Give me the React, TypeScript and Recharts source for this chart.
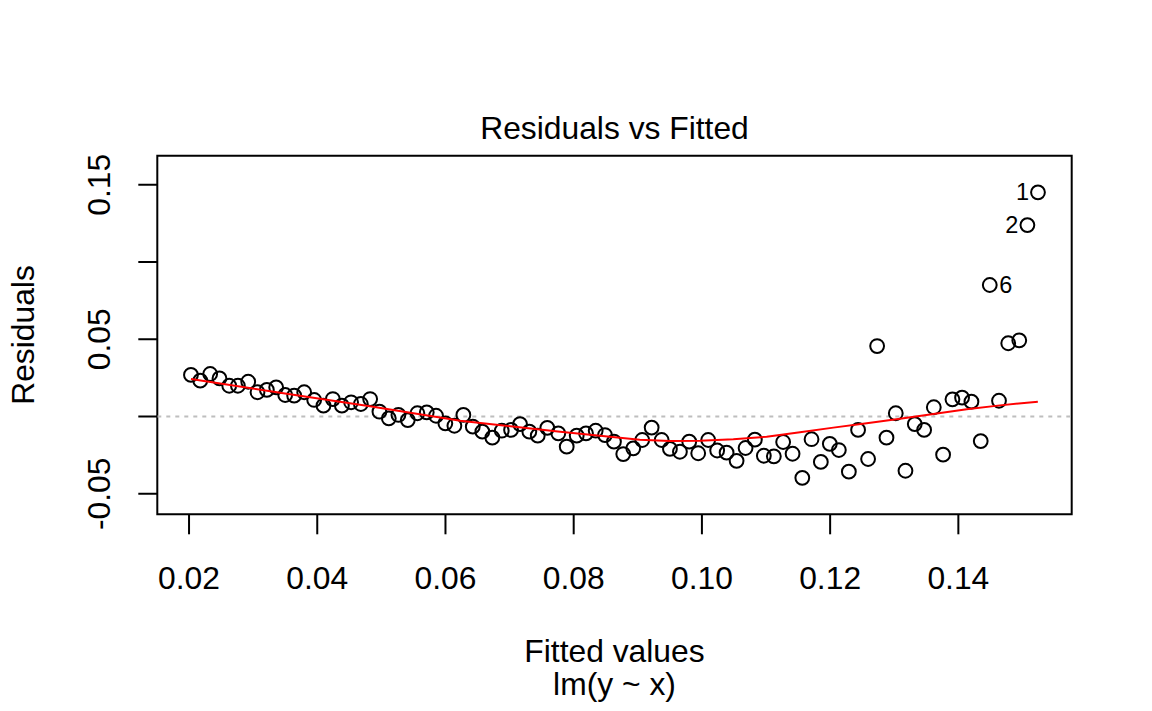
import React from "react";
import {
  ScatterChart,
  Scatter,
  XAxis,
  YAxis,
  ReferenceLine,
  ReferenceArea,
} from "recharts";

// Fitted values (x) and residuals (y), left to right
const fittedValues = [
  0.0203, 0.02175, 0.0233, 0.02475, 0.02627, 0.02762, 0.02923, 0.03068, 0.03214, 0.03359,
  0.035, 0.0364, 0.03796, 0.03952, 0.04097, 0.04243, 0.04384, 0.04528, 0.0468, 0.04825,
  0.0497, 0.05116, 0.05266, 0.05412, 0.05562, 0.05708, 0.05853, 0.05998, 0.06139, 0.06279,
  0.06426, 0.06575, 0.06731, 0.06878, 0.07023, 0.07163, 0.07308, 0.07439, 0.07588, 0.0776,
  0.07891, 0.08047, 0.08192, 0.08343, 0.08488, 0.08628, 0.08773, 0.08929, 0.09069, 0.09216,
  0.09372, 0.09501, 0.09657, 0.09802, 0.09942, 0.10098, 0.10238, 0.10385, 0.10541, 0.10681,
  0.10826, 0.10966, 0.11122, 0.11267, 0.11414, 0.11566, 0.1171, 0.11855, 0.11995, 0.12136,
  0.12292, 0.12436, 0.12592, 0.12733, 0.12879, 0.13024, 0.13175, 0.1332, 0.13466, 0.13617,
  0.13762, 0.13908, 0.14058, 0.14204, 0.14349, 0.1449, 0.14634, 0.14778, 0.1495, 0.15077,
  0.15242,
];

const residuals = [
  0.0269, 0.0232, 0.0275, 0.0247, 0.0199, 0.0199, 0.0225, 0.0157, 0.0172, 0.0189,
  0.0139, 0.0135, 0.0157, 0.0107, 0.007, 0.0113, 0.007, 0.0092, 0.0081, 0.0113,
  0.0031, -0.0012, 0.001, -0.0023, 0.0021, 0.0027, 0.0005, -0.0044, -0.006, 0.001,
  -0.0066, -0.0098, -0.0137, -0.0092, -0.0087, -0.0049, -0.0098, -0.0124, -0.0074, -0.0109,
  -0.0195, -0.0124, -0.0109, -0.0092, -0.012, -0.0163, -0.0243, -0.0206, -0.0152, -0.0072,
  -0.0152, -0.021, -0.0228, -0.0163, -0.0238, -0.0152, -0.022, -0.0234, -0.0287, -0.0204,
  -0.015, -0.0254, -0.0258, -0.0165, -0.0241, -0.0397, -0.0147, -0.0294, -0.0177, -0.0217,
  -0.0357, -0.0087, -0.0275, 0.0456, -0.0137, 0.0021, -0.0351, -0.0049, -0.0087, 0.006,
  -0.0247, 0.0111, 0.0122, 0.0096, -0.0159, 0.0851, 0.0102, 0.0474, 0.0493, 0.1239,
  0.1451,
];

// Observations whose id is printed next to the point
const labelledIds = ["1", "2", "6"];
const labelLeftIds = ["1", "2"];

// Smoother (red line)
const smoothX = [
  0.0203, 0.0342, 0.0482, 0.0623, 0.0779, 0.0903, 0.095, 0.0997, 0.1049, 0.1101,
  0.1153, 0.1205, 0.1257, 0.1309, 0.1361, 0.1413, 0.1465, 0.1524,
];
const smoothY = [
  0.0243, 0.0153, 0.0067, -0.0027, -0.0098, -0.015, -0.0158, -0.0157, -0.0148, -0.0131,
  -0.0102, -0.0072, -0.0044, -0.0014, 0.0016, 0.0047, 0.0072, 0.0096,
];

const xTicks = [0.02, 0.04, 0.06, 0.08, 0.1, 0.12, 0.14];
const yTicks = [-0.05, 0, 0.05, 0.1, 0.15];
const yLabelledTicks = [-0.05, 0.05, 0.15];

const xDomain: [number, number] = [0.01505, 0.15768];
const yDomain: [number, number] = [-0.0633, 0.1688];

const FONT = '"Liberation Sans", Arial, Helvetica, sans-serif';
const FS = 31.8;

const X_AXIS_H = 60;
const Y_AXIS_W = 60;

const points = fittedValues.map((f, i) => ({
  x: f,
  y: residuals[i],
  id: String(fittedValues.length - i),
}));
const smoothData = smoothX.map((x, i) => ({ x, y: smoothY[i] }));

const PointShape = (props: any) => {
  const { cx, cy, payload } = props;
  const id = payload?.id;
  const showLabel = labelledIds.includes(id);
  const left = labelLeftIds.includes(id);
  return (
    <g>
      <circle cx={cx} cy={cy} r={6.9} fill="none" stroke="#000" strokeWidth={2} />
      {showLabel && (
        <text
          x={left ? cx - 9 : cx + 9.5}
          y={cy + 8}
          textAnchor={left ? "end" : "start"}
          fontFamily={FONT}
          fontSize={23.5}
          fill="#000"
        >
          {id}
        </text>
      )}
    </g>
  );
};

const XTick = (props: any) => {
  const { x, y, payload } = props;
  return (
    <text x={x} y={y + 55} textAnchor="middle" fontFamily={FONT} fontSize={FS} fill="#000">
      {Number(payload.value).toFixed(2)}
    </text>
  );
};

const YTick = (props: any) => {
  const { x, y, payload } = props;
  const v = Number(payload.value);
  if (!yLabelledTicks.some((t) => Math.abs(t - v) < 1e-9)) return <g />;
  const bx = x - 28.3;
  return (
    <text
      x={bx}
      y={y}
      transform={`rotate(-90, ${bx}, ${y})`}
      textAnchor="middle"
      fontFamily={FONT}
      fontSize={FS}
      fill="#000"
    >
      {v.toFixed(2)}
    </text>
  );
};

export default function App() {
  return (
    <div style={{ position: "absolute", left: 0, top: 0, width: 1152, height: 711, background: "#fff" }}>
      <ScatterChart
        width={1152}
        height={711}
        margin={{ top: 155.7, right: 80.3, bottom: 196.7 - X_AXIS_H, left: 157.3 - Y_AXIS_W }}
      >
        <XAxis
          type="number"
          dataKey="x"
          domain={xDomain}
          allowDataOverflow
          ticks={xTicks}
          interval={0}
          height={X_AXIS_H}
          axisLine={false}
          tickSize={20}
          tickMargin={0}
          tickLine={{ stroke: "#000", strokeWidth: 2 }}
          tick={<XTick />}
        />
        <YAxis
          type="number"
          dataKey="y"
          domain={yDomain}
          allowDataOverflow
          ticks={yTicks}
          interval={0}
          width={Y_AXIS_W}
          axisLine={false}
          tickSize={19}
          tickMargin={0}
          tickLine={{ stroke: "#000", strokeWidth: 2 }}
          tick={<YTick />}
        />
        <ReferenceLine y={0} stroke="#bebebe" strokeWidth={1.8} strokeDasharray="4 5" />
        <Scatter data={points} shape={<PointShape />} isAnimationActive={false} />
        <Scatter
          data={smoothData}
          line={{ stroke: "#ff0000", strokeWidth: 2 }}
          lineType="joint"
          shape={() => <g />}
          isAnimationActive={false}
        />
        <ReferenceArea
          x1={xDomain[0]}
          x2={xDomain[1]}
          y1={yDomain[0]}
          y2={yDomain[1]}
          fill="none"
          fillOpacity={0}
          stroke="#000"
          strokeWidth={2}
          ifOverflow="visible"
        />
      </ScatterChart>
      <svg
        width={1152}
        height={711}
        style={{ position: "absolute", left: 0, top: 0, pointerEvents: "none" }}
      >
        <text x={614.5} y={139} textAnchor="middle" fontFamily={FONT} fontSize={FS} fill="#000">
          Residuals vs Fitted
        </text>
        <text x={614.5} y={662} textAnchor="middle" fontFamily={FONT} fontSize={FS} fill="#000">
          Fitted values
        </text>
        <text x={614.5} y={695} textAnchor="middle" fontFamily={FONT} fontSize={FS} fill="#000">
          lm(y ~ x)
        </text>
        <text
          x={34}
          y={335}
          transform="rotate(-90, 34, 335)"
          textAnchor="middle"
          fontFamily={FONT}
          fontSize={FS}
          fill="#000"
        >
          Residuals
        </text>
      </svg>
    </div>
  );
}
